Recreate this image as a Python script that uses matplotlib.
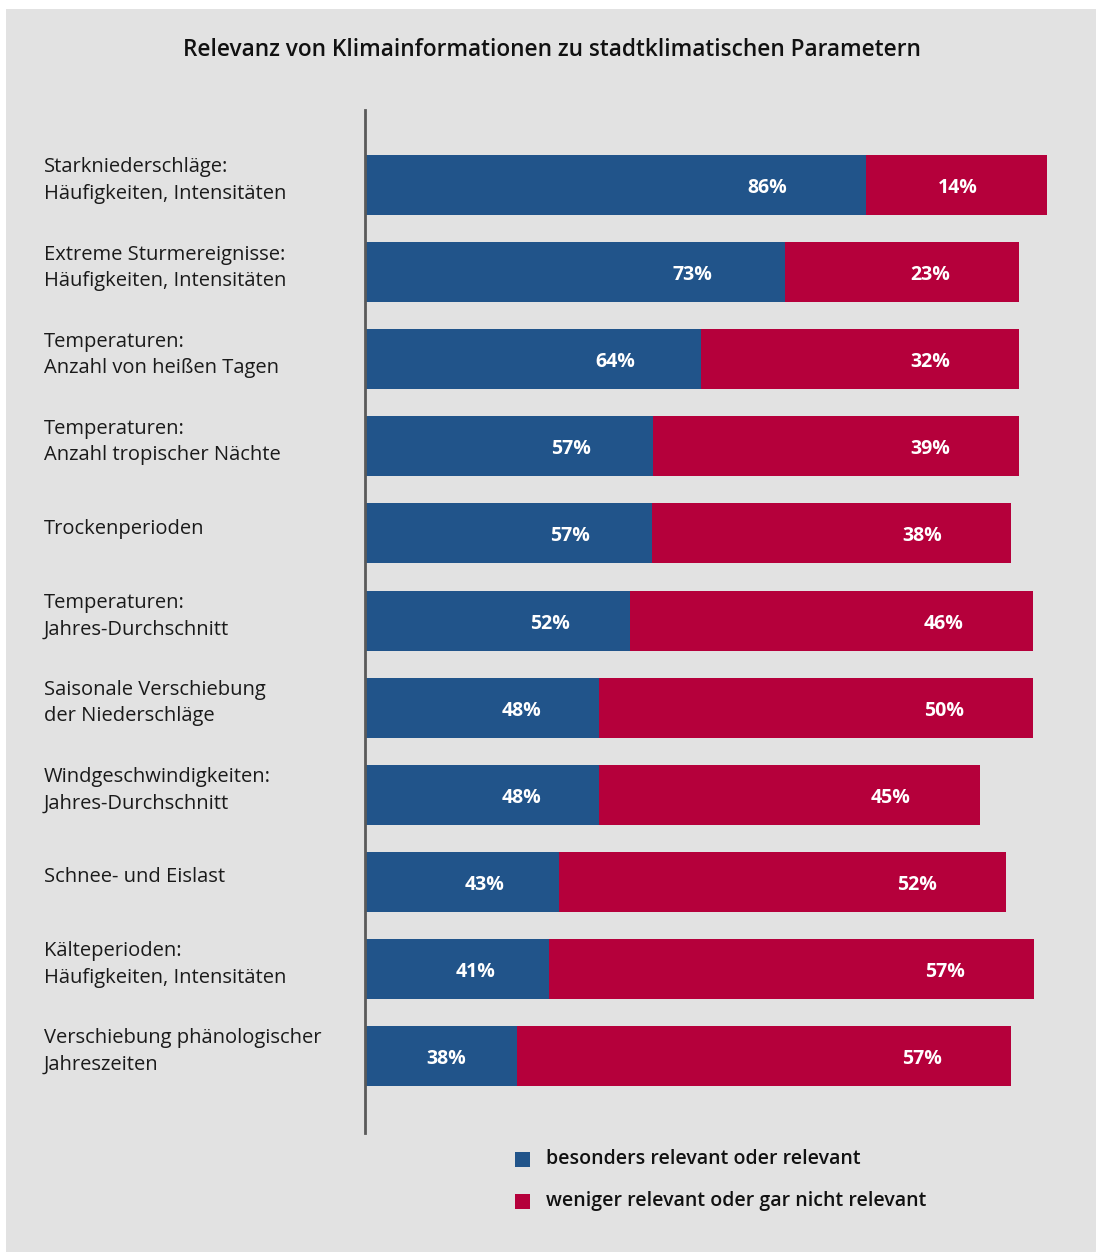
import matplotlib.pyplot as plt
from matplotlib.patches import Rectangle
from matplotlib.transforms import blended_transform_factory

W, H = 1096, 1254

categories = [
    "Starkniederschläge:\nHäufigkeiten, Intensitäten",
    "Extreme Sturmereignisse:\nHäufigkeiten, Intensitäten",
    "Temperaturen:\nAnzahl von heißen Tagen",
    "Temperaturen:\nAnzahl tropischer Nächte",
    "Trockenperioden",
    "Temperaturen:\nJahres-Durchschnitt",
    "Saisonale Verschiebung\nder Niederschläge",
    "Windgeschwindigkeiten:\nJahres-Durchschnitt",
    "Schnee- und Eislast",
    "Kälteperioden:\nHäufigkeiten, Intensitäten",
    "Verschiebung phänologischer\nJahreszeiten",
]
# printed percentages
relevant_pct = [86, 73, 64, 57, 57, 52, 48, 48, 43, 41, 38]
not_relevant_pct = [14, 23, 32, 39, 38, 46, 50, 45, 52, 57, 57]
# bar lengths as drawn in the original (not to scale with the printed values)
relevant_len = [500, 419, 335, 287, 286, 264, 233, 233, 193, 183, 151]
not_relevant_len = [181, 234, 318, 366, 359, 403, 434, 381, 447, 485, 494]

legend_labels = ["besonders relevant oder relevant",
                 "weniger relevant oder gar nicht relevant"]

BLUE = "#21548a"
RED = "#b5003b"
BG = "#e2e2e2"
FONT = "Open Sans"

fig = plt.figure(figsize=(W / 100, H / 100), dpi=100)
fig.patch.set_facecolor("white")
fig.patches.append(Rectangle((6 / W, 2 / H), 1 - 6 / W, 1 - 11 / H,
                             transform=fig.transFigure, facecolor=BG,
                             edgecolor="none", zorder=-5))

ax = fig.add_axes([365 / W, 1 - 1133 / H, (W - 365) / W, (1133 - 110) / H])
ax.set_facecolor("none")
pitch = 87.1
ax.set_xlim(0, W - 365)
ax.set_ylim(10 + 77 / pitch, -75 / pitch)
for s in ["top", "right", "bottom"]:
    ax.spines[s].set_visible(False)
ax.spines["left"].set_color("#5a5a5a")
ax.spines["left"].set_linewidth(2)
ax.set_xticks([])
ax.set_yticks([])

y = list(range(len(categories)))
bh = 60 / pitch
ax.barh(y, relevant_len, height=bh, left=1, color=BLUE, zorder=2)
ax.barh(y, not_relevant_len, height=bh,
        left=[b + 1 for b in relevant_len], color=RED, zorder=2)

for i in y:
    bl = relevant_len[i]
    ax.text(bl - (58 + 0.08 * bl), i + 0.035, f"{relevant_pct[i]}%",
            ha="center", va="center", color="white", fontsize=14,
            fontweight="bold", family=FONT, zorder=3)
    ax.text(bl + not_relevant_len[i] - 88, i + 0.035,
            f"{not_relevant_pct[i]}%", ha="center", va="center",
            color="white", fontsize=14, fontweight="bold", family=FONT,
            zorder=3)

tr = blended_transform_factory(fig.transFigure, ax.transData)
for i, c in enumerate(categories):
    ax.text(44 / W, i - 0.05, c, transform=tr, ha="left", va="center",
            fontsize=14.5, family=FONT, color="#1a1a1a", linespacing=1.42)

fig.text(552 / W, 1 - 50 / H,
         "Relevanz von Klimainformationen zu stadtklimatischen Parametern",
         ha="center", va="center", fontsize=16.3, family=FONT,
         fontweight="semibold", color="#111111")

# legend
for k, (lab, col) in enumerate(zip(legend_labels, [BLUE, RED])):
    yc = 1159 + 42 * k
    fig.patches.append(Rectangle((515 / W, 1 - (yc + 8) / H), 15 / W, 15 / H,
                                 transform=fig.transFigure, facecolor=col,
                                 edgecolor="none"))
    fig.text(546 / W, 1 - yc / H, lab, ha="left", va="center", fontsize=14,
             family=FONT, fontweight="semibold", color="#111111")

fig.savefig("out.png", dpi=100)
